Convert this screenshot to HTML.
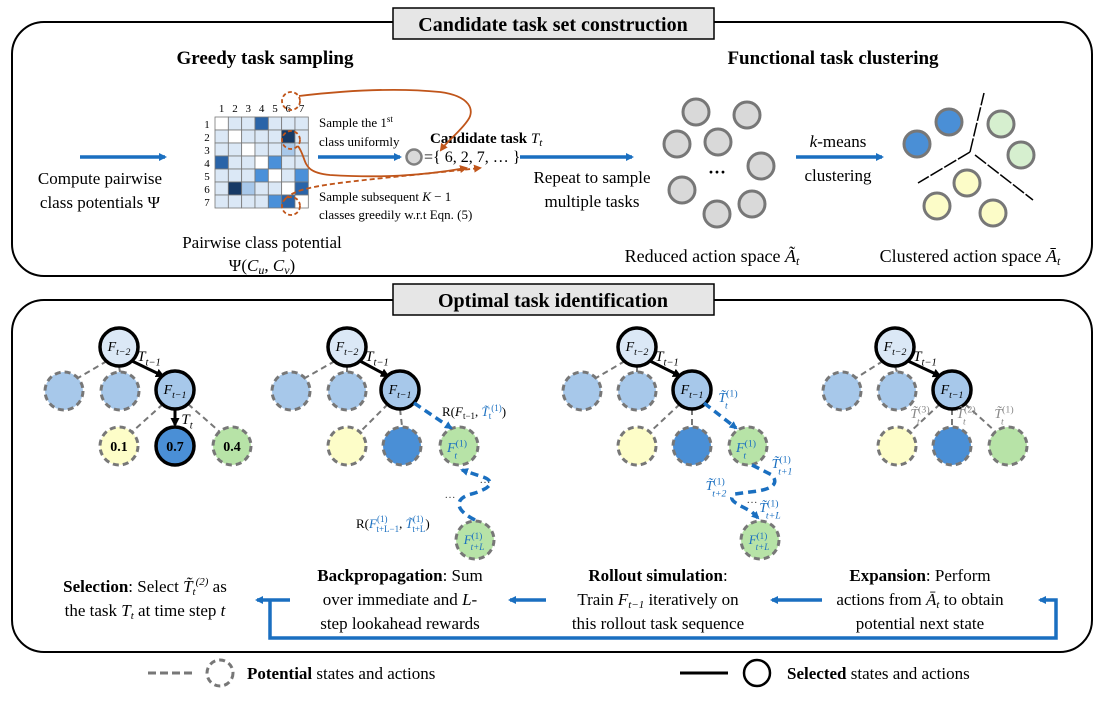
<!DOCTYPE html>
<html><head><meta charset="utf-8"><style>
body{margin:0;background:#fff}
svg{display:block;font-family:"Liberation Serif",serif}
</style></head><body>
<svg width="1107" height="703" viewBox="0 0 1107 703" xmlns="http://www.w3.org/2000/svg">
<defs>
<marker id="ab" markerWidth="8" markerHeight="8" refX="6" refY="4" orient="auto" markerUnits="userSpaceOnUse"><path d="M0,0 L8,4 L0,8z" fill="#1a6fc0"/></marker>
<marker id="ak" markerWidth="9" markerHeight="9" refX="7" refY="4.5" orient="auto" markerUnits="userSpaceOnUse"><path d="M0,0 L9,4.5 L0,9z" fill="#000"/></marker>
<marker id="ao" markerWidth="8" markerHeight="8" refX="6" refY="4" orient="auto" markerUnits="userSpaceOnUse"><path d="M0,0 L8,4 L0,8z" fill="#c0551a"/></marker>
</defs>
<rect x="12" y="22" width="1080" height="254" rx="32" fill="none" stroke="#000" stroke-width="2"/>
<rect x="12" y="300" width="1080" height="352" rx="32" fill="none" stroke="#000" stroke-width="2"/>
<rect x="393" y="8" width="321" height="31" fill="#e6e6e6" stroke="#000" stroke-width="1.5"/>
<text x="553" y="31" font-size="20" font-weight="bold" text-anchor="middle">Candidate task set construction</text>
<rect x="393" y="284" width="321" height="31" fill="#e6e6e6" stroke="#000" stroke-width="1.5"/>
<text x="553" y="307" font-size="20" font-weight="bold" text-anchor="middle">Optimal task identification</text>

<text x="265" y="64" font-size="19" font-weight="bold" text-anchor="middle">Greedy task sampling</text>
<text x="833" y="64" font-size="19" font-weight="bold" text-anchor="middle">Functional task clustering</text>

<line x1="80" y1="157" x2="165" y2="157" stroke="#1a6fc0" stroke-width="3.5" marker-end="url(#ab)"/>
<text x="100" y="184" font-size="17" text-anchor="middle">Compute pairwise</text>
<text x="100" y="208" font-size="17" text-anchor="middle">class potentials Ψ</text>

<g stroke="#777" stroke-width="0.8"><g id="cells"></g></g>
<g font-size="11" text-anchor="middle">
<text x="221.6" y="112">1</text><text x="235" y="112">2</text><text x="248.3" y="112">3</text><text x="261.6" y="112">4</text><text x="275" y="112">5</text><text x="288.3" y="112">6</text><text x="301.6" y="112">7</text>
<text x="207" y="128">1</text><text x="207" y="141">2</text><text x="207" y="154">3</text><text x="207" y="167">4</text><text x="207" y="180">5</text><text x="207" y="193">6</text><text x="207" y="206">7</text>
</g>
<text x="262" y="248" font-size="17" text-anchor="middle">Pairwise class potential</text>
<text x="262" y="271" font-size="17" text-anchor="middle">Ψ(<tspan font-style="italic">C<tspan font-size="12" dy="3">u</tspan></tspan><tspan dy="-3">, </tspan><tspan font-style="italic">C<tspan font-size="12" dy="3">v</tspan></tspan><tspan dy="-3">)</tspan></text>

<text x="319" y="127" font-size="13">Sample the 1<tspan font-size="9" dy="-5">st</tspan></text>
<text x="319" y="146" font-size="13">class uniformly</text>
<text x="319" y="201" font-size="13">Sample subsequent <tspan font-style="italic">K</tspan> − 1</text>
<text x="319" y="219" font-size="13">classes greedily w.r.t Eqn. (5)</text>
<line x1="318" y1="157" x2="400" y2="157" stroke="#1a6fc0" stroke-width="3.5" marker-end="url(#ab)"/>
<circle cx="414" cy="157" r="7.5" fill="#d9d9d9" stroke="#808080" stroke-width="2.5"/>
<text x="424" y="162" font-size="16">={ 6, 2, 7, … }</text>
<text x="430" y="143" font-size="15" font-weight="bold">Candidate task <tspan font-weight="normal" font-style="italic">T<tspan font-size="11" dy="3">t</tspan></tspan></text>

<g fill="none" stroke="#c0551a" stroke-width="1.8">
<circle cx="291" cy="101" r="9" stroke-dasharray="4,2.5"/>
<circle cx="291" cy="140" r="9" stroke-dasharray="4,2.5"/>
<circle cx="291" cy="206" r="9" stroke-dasharray="4,2.5"/>
<path d="M299,96 C350,90 400,88 440,92 C470,96 475,110 468,120 C460,132 448,140 441,150" marker-end="url(#ao)"/>
<path d="M298,146 C308,160 300,172 330,175 C380,178 420,176 466,168" marker-end="url(#ao)"/>
<path d="M285,199 C300,184 340,183 480,168" stroke-dasharray="5,3" marker-end="url(#ao)"/>
</g>

<line x1="520" y1="157" x2="632" y2="157" stroke="#1a6fc0" stroke-width="3.5" marker-end="url(#ab)"/>
<text x="592" y="183" font-size="17" text-anchor="middle">Repeat to sample</text>
<text x="592" y="207" font-size="17" text-anchor="middle">multiple tasks</text>

<g fill="#d9d9d9" stroke="#777" stroke-width="3">
<circle cx="696" cy="112" r="13"/><circle cx="747" cy="115" r="13"/><circle cx="677" cy="144" r="13"/><circle cx="718" cy="142" r="13"/><circle cx="761" cy="166" r="13"/><circle cx="682" cy="190" r="13"/><circle cx="752" cy="204" r="13"/><circle cx="717" cy="214" r="13"/>
</g>
<text x="717" y="178" font-size="18" font-weight="bold" text-anchor="middle">···</text>
<line x1="796" y1="157" x2="882" y2="157" stroke="#1a6fc0" stroke-width="3.5" marker-end="url(#ab)"/>
<text x="838" y="147" font-size="17" text-anchor="middle"><tspan font-style="italic">k</tspan>-means</text>
<text x="838" y="181" font-size="17" text-anchor="middle">clustering</text>
<g stroke="#777" stroke-width="3">
<circle cx="949" cy="122" r="13" fill="#4a8fd6"/><circle cx="917" cy="144" r="13" fill="#4a8fd6"/>
<circle cx="1001" cy="124" r="13" fill="#d6efcf"/><circle cx="1021" cy="155" r="13" fill="#d6efcf"/>
<circle cx="967" cy="183" r="13" fill="#fcfcc8"/><circle cx="937" cy="206" r="13" fill="#fcfcc8"/><circle cx="993" cy="213" r="13" fill="#fcfcc8"/>
</g>
<g stroke="#000" stroke-width="1.5" stroke-dasharray="14,2"><line x1="970" y1="152" x2="984" y2="93"/><line x1="970" y1="152" x2="918" y2="183"/><line x1="975" y1="155" x2="1033" y2="200"/></g>
<text x="712" y="262" font-size="18" text-anchor="middle">Reduced action space <tspan font-style="italic">Ã<tspan font-size="12" dy="3">t</tspan></tspan></text>
<text x="970" y="262" font-size="18" text-anchor="middle">Clustered action space <tspan font-style="italic">Ā<tspan font-size="12" dy="3">t</tspan></tspan></text>

<g id="trees"></g>

<g font-size="17" text-anchor="middle">
<text x="145" y="592"><tspan font-weight="bold">Selection</tspan>: Select <tspan font-style="italic">T̃<tspan font-size="11" dy="3">t</tspan><tspan font-size="11" dy="-10">(2)</tspan></tspan><tspan dy="7"> as</tspan></text>
<text x="145" y="616">the task <tspan font-style="italic">T<tspan font-size="11" dy="3">t</tspan></tspan><tspan dy="-3"> at time step </tspan><tspan font-style="italic">t</tspan></text>
<text x="400" y="581"><tspan font-weight="bold">Backpropagation</tspan>: Sum</text>
<text x="400" y="605">over immediate and <tspan font-style="italic">L</tspan>-</text>
<text x="400" y="629">step lookahead rewards</text>
<text x="658" y="581" font-weight="bold">Rollout simulation<tspan font-weight="normal">:</tspan></text>
<text x="658" y="605">Train <tspan font-style="italic">F<tspan font-size="11" dy="3">t−1</tspan></tspan><tspan dy="-3"> iteratively on</tspan></text>
<text x="658" y="629">this rollout task sequence</text>
<text x="920" y="581"><tspan font-weight="bold">Expansion</tspan>: Perform</text>
<text x="920" y="605">actions from <tspan font-style="italic">Ā<tspan font-size="11" dy="3">t</tspan></tspan><tspan dy="-3"> to obtain</tspan></text>
<text x="920" y="629">potential next state</text>
</g>
<g stroke="#1a6fc0" stroke-width="3.5" fill="none">
<line x1="822" y1="600" x2="772" y2="600" marker-end="url(#ab)"/>
<line x1="546" y1="600" x2="510" y2="600" marker-end="url(#ab)"/>
<line x1="290" y1="600" x2="257" y2="600" marker-end="url(#ab)"/>
<path d="M270,600 L270,638 L1056,638 L1056,600 L1040,600" marker-end="url(#ab)"/>
</g>
<line x1="148" y1="673" x2="195" y2="673" stroke="#777" stroke-width="3" stroke-dasharray="8,4"/>
<circle cx="220" cy="673" r="13" fill="none" stroke="#777" stroke-width="3" stroke-dasharray="6,4"/>
<text x="247" y="679" font-size="17"><tspan font-weight="bold">Potential</tspan> states and actions</text>
<line x1="680" y1="673" x2="728" y2="673" stroke="#000" stroke-width="3"/>
<circle cx="757" cy="673" r="13" fill="none" stroke="#000" stroke-width="2.5"/>
<text x="787" y="679" font-size="17"><tspan font-weight="bold">Selected</tspan> states and actions</text>
</svg>
<script>
(function(){
var NS="http://www.w3.org/2000/svg";
function el(p,t,a,txt){var e=document.createElementNS(NS,t);for(var k in a)e.setAttribute(k,a[k]);if(txt!=null)e.textContent=txt;p.appendChild(e);return e;}
var g=document.getElementById("cells");
var L="#dbe8f6",W="#ffffff",M="#4a90d9",D="#2a64a8",K="#173a66",P="#a8c8ea";
var m=[[W,L,L,D,L,L,L],[L,W,L,L,L,K,L],[L,L,W,L,L,P,L],[D,L,L,W,M,L,L],[L,L,L,M,W,L,M],[L,K,P,L,L,W,D],[L,L,L,L,M,D,W]];
for(var r=0;r<7;r++)for(var c=0;c<7;c++)el(g,"rect",{x:215+c*13.33,y:117+r*13,width:13.33,height:13,fill:m[r][c]});
var t=document.getElementById("trees");
var GR="#777";
function dl(x1,y1,x2,y2,col,w,da,mk){var a={x1:x1,y1:y1,x2:x2,y2:y2,stroke:col,"stroke-width":w};if(da)a["stroke-dasharray"]=da;if(mk)a["marker-end"]=mk;el(t,"line",a);}
function circ(x,y,f,sel){el(t,"circle",{cx:x,cy:y,r:19,fill:f,stroke:sel?"#000":GR,"stroke-width":sel?3.5:3,"stroke-dasharray":sel?"":"6,4"});}
// label with base, sub, sup
function lab(x,y,base,sub,sup,sz,col,anc){
 sz=sz||14;
 var e=el(t,"text",{x:x,y:y,"font-size":sz,fill:col||"#000","text-anchor":anc||"middle"});
 var b=el(e,"tspan",{"font-style":"italic"},base);
 var s1=0;
 if(sup){el(e,"tspan",{"font-size":sz*0.7,dy:-sz*0.4},"("+sup+")");el(e,"tspan",{"font-size":sz*0.7,dx:-sz*0.9,dy:sz*0.85,"font-style":"italic"},sub);}
 else if(sub){el(e,"tspan",{"font-size":sz*0.7,dy:sz*0.3,"font-style":"italic"},sub);}
 return e;
}
var Y="#fdfdc8",BB="#4a8fd6",GN="#b7e3a7",BL="#1a6fc0",LB="#dbe8f6",MB="#a7c8ea";
var xs=[[119,175,64,120,119,175,232],[347,400,291,347,347,402,459],[637,692,582,637,637,692,748],[895,952,842,897,897,952,1008]];
for(var i=0;i<4;i++){
 var p=xs[i];
 dl(p[0]-12,361,p[2]+14,378,GR,2,"6,4");
 dl(p[0],366,p[3],372,GR,2,"6,4");
 dl(p[0]+13,361,p[1]-12,376,"#000",3,null,"url(#ak)");
 lab(p[0]+30,361,"T","t−1",null,15,"#000","middle");
 dl(p[1]-12,404,p[4]+13,432,GR,2,"6,4");
 if(i!=0) dl(p[1],409,p[5],426,GR,2,"6,4");
 if(i==3) dl(p[1]+13,404,p[6]-12,432,GR,2,"6,4");
 if(i==0){dl(p[1],409,p[5],425,"#000",3,null,"url(#ak)");dl(p[1]+13,404,p[6]-12,432,GR,2,"6,4");lab(p[1]+12,424,"T","t",null,15);}
 circ(p[2],391,MB,false);circ(p[3],391,MB,false);
 circ(p[0],347,LB,true);circ(p[1],390,MB,true);
 lab(p[0],351,"F","t−2",null,14);lab(p[1],394,"F","t−1",null,14);
 if(i==0){circ(p[4],446,Y,false);circ(p[5],446,BB,true);circ(p[6],446,GN,false);
  el(t,"text",{x:p[4],y:451,"font-size":14,"font-weight":"bold","text-anchor":"middle"},"0.1");
  el(t,"text",{x:p[5],y:451,"font-size":14,"font-weight":"bold","text-anchor":"middle"},"0.7");
  el(t,"text",{x:p[6],y:451,"font-size":14,"font-weight":"bold","text-anchor":"middle"},"0.4");}
 else{circ(p[4],446,Y,false);circ(p[5],446,BB,false);circ(p[6],446,GN,false);}
}
// tree 2
dl(414,403,451,428,BL,3.5,"8,5","url(#ab)");
var e=el(t,"text",{x:442,y:416,"font-size":13});
e.innerHTML='R(<tspan font-style="italic">F</tspan><tspan font-size="9" dy="3">t−1</tspan><tspan dy="-3">, </tspan><tspan font-style="italic" fill="#1a6fc0">T̃</tspan><tspan font-size="9" fill="#1a6fc0" dy="3">t</tspan><tspan font-size="9" fill="#1a6fc0" dy="-8">(1)</tspan><tspan dy="5">)</tspan>';
lab(457,452,"F","t","1",14,BL);
el(t,"path",{d:"M475,520 C455,510 455,500 468,495 C495,488 495,480 480,476 C462,470 462,470 462,470",fill:"none",stroke:BL,"stroke-width":3.5,"stroke-dasharray":"8,5","marker-end":"url(#ab)"});
el(t,"text",{x:485,y:483,"font-size":11,fill:"#444","text-anchor":"middle"},"…");
el(t,"text",{x:450,y:498,"font-size":11,fill:"#444","text-anchor":"middle"},"…");
circ(475,540,GN,false);lab(474,544,"F","t+L","1",13,BL);
e=el(t,"text",{x:356,y:528,"font-size":13});
e.innerHTML='R(<tspan font-style="italic" fill="#1a6fc0">F</tspan><tspan font-size="9" fill="#1a6fc0" dy="-6">(1)</tspan><tspan font-size="9" fill="#1a6fc0" dx="-11" dy="10">t+L−1</tspan><tspan dy="-4">, </tspan><tspan font-style="italic" fill="#1a6fc0">T̃</tspan><tspan font-size="9" fill="#1a6fc0" dy="-6">(1)</tspan><tspan font-size="9" fill="#1a6fc0" dx="-11" dy="10">t+L</tspan><tspan dy="-4">)</tspan>';
// tree 3
dl(704,403,736,428,BL,3.5,"8,5","url(#ab)");
lab(728,402,"T̃","t","1",14,BL);lab(746,452,"F","t","1",14,BL);
el(t,"path",{d:"M752,465 L772,475 C780,485 770,490 750,492 L735,494 C725,500 740,505 752,512 L758,518",fill:"none",stroke:BL,"stroke-width":3.5,"stroke-dasharray":"8,5","marker-end":"url(#ab)"});
lab(782,468,"T̃","t+1","1",14,BL);lab(716,490,"T̃","t+2","1",14,BL);lab(770,512,"T̃","t+L","1",14,BL);
el(t,"text",{x:752,y:503,"font-size":11,fill:"#444","text-anchor":"middle"},"…");
circ(760,540,GN,false);lab(759,544,"F","t+L","1",13,BL);
// tree 4
lab(920,418,"T̃","t","3",14,"#888");lab(966,418,"T̃","t","2",14,"#888");lab(1004,418,"T̃","t","1",14,"#888");
})();
</script>
</body></html>
